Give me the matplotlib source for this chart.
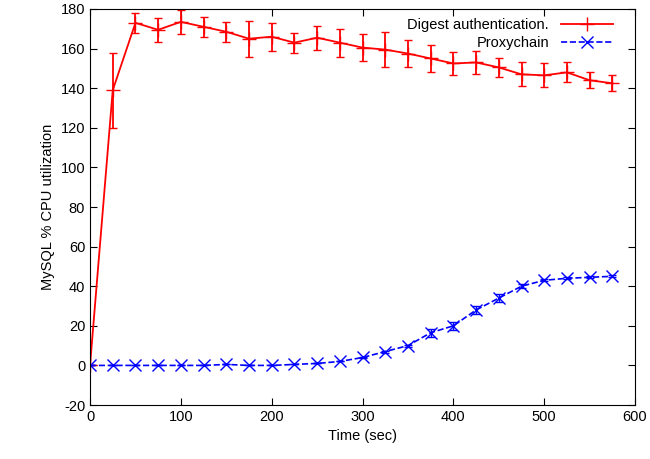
import matplotlib
matplotlib.use("Agg")
import matplotlib.pyplot as plt
from matplotlib.lines import Line2D

plt.rcParams['font.family'] = ['Liberation Sans', 'DejaVu Sans']
plt.rcParams['axes.unicode_minus'] = False

time = [0, 25, 50, 75, 100, 125, 150, 175, 200, 225, 250, 275,
        300, 325, 350, 375, 400, 425, 450, 475, 500, 525, 550, 575]

digest = [0, 139, 173, 169.5, 173.5, 171, 168.5, 165, 166, 163, 165.5, 163,
          160.5, 159.5, 157.5, 155, 152.5, 153, 150.5, 147, 146.5, 148, 144, 142.5]
digest_err = [0, 19, 5, 6, 6, 5, 5, 9, 7, 5, 6, 7,
              7, 9, 7, 7, 6, 6, 5, 6, 6, 5, 4, 4]

proxy = [0, 0, 0, 0, 0, 0, 0.5, 0, 0, 0.5, 1, 2,
         4, 7, 10, 16.5, 20, 28, 34, 40, 43, 44, 44.5, 45]
proxy_err = [0, 0, 0, 0, 0, 0, 0, 0, 0, 0, 0, 0,
             0.5, 0.5, 0.5, 2, 2, 2, 2, 1, 0.5, 0.5, 0.5, 0.5]

fig = plt.figure(figsize=(6.5, 4.59), dpi=100)
ax = fig.add_axes([0.1385, 0.1176, 0.8385, 0.8628])

ax.errorbar(time, digest, yerr=digest_err, color='red', lw=1.3,
            marker='+', markersize=10, capsize=3, elinewidth=1.3)
ax.errorbar(time, proxy, yerr=proxy_err, color='blue', lw=1.2, ls='--',
            marker='x', markersize=9, capsize=3, elinewidth=1.0)

ax.set_xlim(0, 600)
ax.set_ylim(-20, 180)
ax.set_xticks(range(0, 601, 100))
ax.set_yticks(range(-20, 181, 20))
ax.tick_params(direction='in', top=True, right=True, labelsize=10.5, length=5)
ax.set_xlabel('Time (sec)', fontsize=10.5)
ax.set_ylabel('MySQL % CPU utilization', fontsize=10.5)

handles = [
    Line2D([], [], color='red', lw=1.3, marker='+', markersize=10),
    Line2D([], [], color='blue', lw=1.2, ls='--', marker='x', markersize=9),
]
ax.legend(handles, ['Digest authentication.', 'Proxychain'], loc='upper right',
          bbox_to_anchor=(0.965, 0.985), borderaxespad=0,
          frameon=False, markerfirst=False, fontsize=10.5, numpoints=1,
          handlelength=3.6, borderpad=0.2, labelspacing=0.3)

fig.savefig('out.png', dpi=100)
